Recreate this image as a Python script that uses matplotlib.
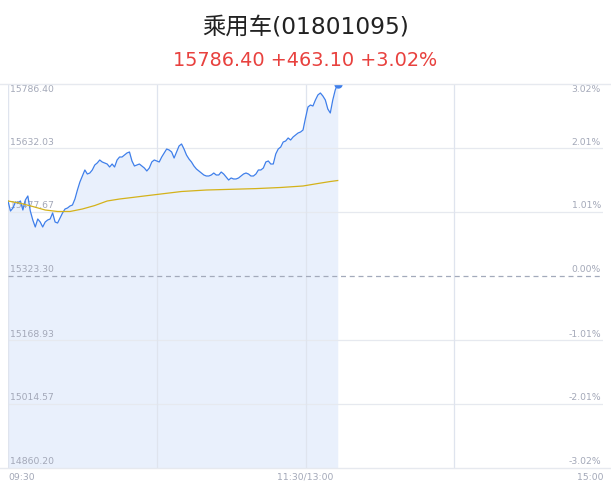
import numpy as np
import matplotlib
matplotlib.use("Agg")
import matplotlib.pyplot as plt
from matplotlib.lines import Line2D

title = "乘用车(01801095)"
subtitle = "15786.40 +463.10 +3.02%"
prev_close = 15323.30
y_ticks = [15786.40, 15632.03, 15477.67, 15323.30, 15168.93, 15014.57, 14860.20]
pct_ticks = ["3.02%", "2.01%", "1.01%", "0.00%", "-1.01%", "-2.01%", "-3.02%"]
x_labels = ["09:30", "11:30/13:00", "15:00"]

# minute prices from 09:30 (lunch break skipped)
price = [
    15504.2, 15480.1, 15487.3, 15501.8, 15499.4, 15504.2, 15482.5, 15506.6, 15516.3, 15480.1,
    15458.4, 15441.5, 15460.8, 15453.5, 15441.5, 15453.5, 15458.4, 15460.8, 15475.3, 15453.5,
    15451.1, 15463.2, 15475.3, 15484.9, 15487.3, 15492.1, 15494.5, 15509.0, 15530.7, 15550.0,
    15564.5, 15579.0, 15569.3, 15571.7, 15579.0, 15591.0, 15595.9, 15603.1, 15598.3, 15595.9,
    15593.4, 15586.2, 15593.4, 15586.2, 15603.1, 15610.3, 15610.3, 15615.1, 15620.0, 15622.4,
    15600.7, 15588.6, 15591.0, 15593.4, 15588.6, 15583.8, 15576.6, 15583.8, 15598.3, 15603.1,
    15600.7, 15598.3, 15610.3, 15620.0, 15629.6, 15627.2, 15622.4, 15607.9, 15622.4, 15636.9,
    15641.7, 15629.6, 15615.1, 15605.5, 15598.3, 15588.6, 15581.4, 15576.6, 15571.7, 15566.9,
    15564.5, 15564.5, 15566.9, 15571.7, 15566.9, 15566.9, 15574.1, 15569.3, 15562.1, 15554.8,
    15559.7, 15557.3, 15557.3, 15559.7, 15564.5, 15569.3, 15571.7, 15569.3, 15564.5, 15564.5,
    15569.3, 15579.0, 15579.0, 15583.8, 15598.3, 15600.7, 15593.4, 15593.4, 15617.6, 15629.6,
    15634.4, 15646.5, 15648.9, 15656.2, 15651.3, 15658.6, 15663.4, 15668.2, 15670.6, 15675.4,
    15704.4, 15730.9, 15735.7, 15733.3, 15747.8, 15759.9, 15764.7, 15757.5, 15747.8, 15726.1,
    15716.5, 15747.8, 15771.9, 15786.4,
]

avg_minute = [0, 5, 10, 15, 20, 25, 30, 35, 40, 45, 50, 55, 60, 70, 80, 90, 100, 110, 119, 125, 130, 133]
avg_price = [
    15504.2, 15498.7, 15490.9, 15482.5, 15478.9, 15478.9, 15484.9, 15493.3, 15504.2, 15509.0,
    15512.6, 15516.3, 15519.9, 15527.1, 15530.7, 15532.4, 15534.1, 15536.8, 15540.4, 15546.4,
    15551.2, 15553.6,
]

label_c = "#a3a8b8"
grid_c = "#e6e9ef"
blue = "#3f7fea"
fonts = ["DejaVu Sans", "Noto Sans CJK SC"]

fig = plt.figure(figsize=(6.11, 4.92), dpi=100)
ax = fig.add_axes([8 / 611, 24 / 492, 595 / 611, 384 / 492])
ax.set_xlim(0, 240)
ax.set_ylim(y_ticks[-1], y_ticks[0])
ax.axis("off")

for v in y_ticks[1:-1]:
    if v == prev_close:
        ax.axhline(v, color="#a3aabb", lw=0.9, ls=(0, (4, 3)), zorder=3)
    else:
        ax.axhline(v, color=grid_c, lw=0.9, zorder=2)
for m in (60, 120, 180):
    ax.axvline(m, color="#dfe4ee", lw=0.9, zorder=2)
ax.axvline(0, color="#dfe4ee", lw=1.0, zorder=2)

x = np.arange(len(price))
ax.fill_between(x, price, y_ticks[-1], color="#e9f0fc", lw=0, zorder=1)
ax.plot(x, price, color=blue, lw=0.9, zorder=4)
ax.plot(avg_minute, avg_price, color="#d4b21a", lw=0.9, zorder=4)
ax.plot(x[-1], price[-1], "o", color=blue, ms=5, zorder=5, clip_on=True)

# full-width frame lines at top and bottom
for yy in (408 / 492, 24 / 492):
    fig.add_artist(Line2D([0, 1], [yy, yy], color=grid_c, lw=1.0))

for i, (v, p) in enumerate(zip(y_ticks, pct_ticks)):
    off = -5 if i == 0 else 6
    ax.annotate(f"{v:.2f}", (0, v), xytext=(2, off), textcoords="offset pixels",
                ha="left", va="center", fontsize=6.7, color=label_c)
    ax.annotate(p, (240, v), xytext=(-2, off), textcoords="offset pixels",
                ha="right", va="center", fontsize=6.7, color=label_c)

for m, lab, ha in zip((0, 120, 240), x_labels, ("left", "center", "right")):
    ax.annotate(lab, (m, y_ticks[-1]), xytext=(0, -9), textcoords="offset pixels",
                ha=ha, va="center", fontsize=6.7, color=label_c)

fig.text(0.5, 1 - 28 / 492, title, ha="center", va="center", fontsize=16.8,
         color="#222222", family=fonts)
fig.text(0.5, 1 - 61 / 492, subtitle, ha="center", va="center", fontsize=13.9,
         color="#e8413e", family=fonts)

fig.savefig("out.png", dpi=100)
